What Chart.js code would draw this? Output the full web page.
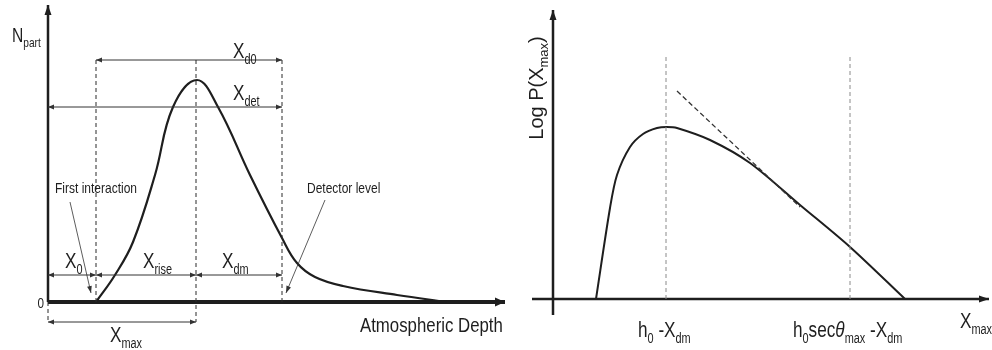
<!DOCTYPE html>
<html>
<head>
<meta charset="utf-8">
<script src="https://cdn.jsdelivr.net/npm/chart.js@4.4.1/dist/chart.umd.min.js"></script>
<style>
  html, body { margin: 0; padding: 0; background: #fff; }
  #wrap { display: flex; width: 992px; height: 350px; }
  canvas { display: block; }
</style>
</head>
<body>
<div id="wrap">
  <canvas id="profileChart" width="510" height="350" style="width:510px;height:350px"></canvas>
  <canvas id="xmaxChart" width="482" height="350" style="width:482px;height:350px"></canvas>
</div>
<script>
// ==========================================
// DATA
// ==========================================

// Left panel: longitudinal shower profile N_part(X)
const depth = [48, 67, 85, 107, 125, 149, 170, 202, 234, 249, 267, 295, 349, 399];
const nPart = [0, 27, 60, 127, 195, 222, 195, 127, 64, 39, 25, 16, 7, 0];

// characteristic depths on the left panel
const X0 = 48;      // first interaction
const XMAX = 148;   // shower maximum
const XDET = 234;   // detector level

// Right panel: Log P(Xmax) distribution
const xmaxVals = [43, 57, 64, 77, 90, 104, 114, 124, 157, 197, 247, 297, 352];
const logP = [0, 91, 124, 152, 165, 171, 172, 171, 159, 136, 94, 52, 0];

// exponential tail (dashed tangent)
const tailX = [124, 247];
const tailY = [208, 92];

// tick positions on the right panel
const H0_XDM = 113;
const H0SEC_XDM = 297;

// ==========================================
// HELPERS
// ==========================================

const FONT = "'Liberation Sans', Arial, sans-serif";
const INK = '#1e1e1e';

function pts(xs, ys) {
    return xs.map((x, i) => ({ x: x, y: ys[i] }));
}

function seg(x1, y1, x2, y2, extra) {
    return Object.assign({
        data: [{ x: x1, y: y1 }, { x: x2, y: y2 }],
        showLine: true,
        borderColor: INK,
        borderWidth: 1,
        pointRadius: 0,
        fill: false
    }, extra || {});
}

// draws arrow heads on datasets that ask for them (arrow: 'start' | 'end' | 'both')
const arrowPlugin = {
    id: 'arrowHeads',
    afterDatasetsDraw(chart) {
        const ctx = chart.ctx;
        chart.data.datasets.forEach((ds, i) => {
            if (!ds.arrow) return;
            const pts = chart.getDatasetMeta(i).data;
            const len = ds.arrowLen || 7, half = ds.arrowHalf || 2.6;
            const head = (tip, from) => {
                const dx = tip.x - from.x, dy = tip.y - from.y;
                const d = Math.hypot(dx, dy) || 1;
                const ux = dx / d, uy = dy / d;
                ctx.beginPath();
                ctx.moveTo(tip.x, tip.y);
                ctx.lineTo(tip.x - ux * len - uy * half, tip.y - uy * len + ux * half);
                ctx.lineTo(tip.x - ux * len + uy * half, tip.y - uy * len - ux * half);
                ctx.closePath();
                ctx.fill();
            };
            ctx.save();
            ctx.fillStyle = ds.borderColor;
            const n = pts.length;
            if (ds.arrow === 'end' || ds.arrow === 'both') head(pts[n - 1], pts[n - 2]);
            if (ds.arrow === 'start' || ds.arrow === 'both') head(pts[0], pts[1]);
            ctx.restore();
        });
    }
};

// text with subscripts, placed in data units
function textPlugin(items) {
    return {
        id: 'richText',
        afterDatasetsDraw(chart) {
            const ctx = chart.ctx;
            const sx = chart.scales.x, sy = chart.scales.y;
            items.forEach(it => {
                const size = it.size || 22;
                const subSize = Math.round(size * 0.64);
                const cond = it.cond || 0.78;
                const fontOf = p => (p.italic ? 'italic ' : '') + (p.sub ? subSize : size) + 'px ' + FONT;
                let w = 0;
                const widths = it.parts.map(p => {
                    ctx.font = fontOf(p);
                    const m = ctx.measureText(p.t).width;
                    w += m;
                    return m;
                });
                ctx.save();
                ctx.fillStyle = it.color || INK;
                ctx.textBaseline = 'alphabetic';
                ctx.textAlign = 'left';
                ctx.translate(sx.getPixelForValue(it.x), sy.getPixelForValue(it.y));
                if (it.rotate) ctx.rotate(it.rotate);
                ctx.scale(cond, 1);
                let cx = it.align === 'right' ? -w : it.align === 'center' ? -w / 2 : 0;
                it.parts.forEach((p, k) => {
                    ctx.font = fontOf(p);
                    ctx.fillText(p.t, cx, p.sub ? size * 0.27 : 0);
                    cx += widths[k];
                });
                ctx.restore();
            });
        }
    };
}

function baseOptions(xmin, xmax, ymin, ymax) {
    return {
        responsive: false,
        animation: false,
        events: [],
        layout: { padding: 0 },
        plugins: { legend: { display: false }, tooltip: { enabled: false } },
        scales: {
            x: { type: 'linear', min: xmin, max: xmax, display: false },
            y: { type: 'linear', min: ymin, max: ymax, display: false }
        }
    };
}

// ==========================================
// LEFT: shower profile
// ==========================================

const dash = { borderDash: [4, 3], borderColor: '#2a2a2a', borderWidth: 1 };
const dim = { arrow: 'both', arrowLen: 6, arrowHalf: 2.4, borderColor: '#333' };

const leftTexts = [
    { x: -36, y: 260, size: 20, parts: [{ t: 'N' }, { t: 'part', sub: true }] },
    { x: -4, y: -6, size: 15, align: 'right', parts: [{ t: '0' }] },
    { x: 185, y: 244, parts: [{ t: 'X' }, { t: 'd0', sub: true }] },
    { x: 185, y: 202, parts: [{ t: 'X' }, { t: 'det', sub: true }] },
    { x: 17, y: 34, parts: [{ t: 'X' }, { t: '0', sub: true }] },
    { x: 95, y: 34, parts: [{ t: 'X' }, { t: 'rise', sub: true }] },
    { x: 174, y: 34, parts: [{ t: 'X' }, { t: 'dm', sub: true }] },
    { x: 62, y: -40, parts: [{ t: 'X' }, { t: 'max', sub: true }] },
    { x: 7, y: 109, size: 15, cond: 0.8, parts: [{ t: 'First interaction' }] },
    { x: 259, y: 109, size: 15, cond: 0.8, parts: [{ t: 'Detector level' }] },
    { x: 312, y: -30, size: 21, cond: 0.8, parts: [{ t: 'Atmospheric Depth' }] }
];

new Chart(document.getElementById('profileChart'), {
    type: 'scatter',
    data: {
        datasets: [
            // dashed guides
            seg(X0, 242, X0, 0, dash),
            seg(XMAX, 242, XMAX, -20, dash),
            seg(XDET, 242, XDET, 0, dash),
            seg(0, 0, 0, -20, dash),
            // dimension arrows
            seg(X0, 242, XDET, 242, dim),
            seg(0, 195, XDET, 195, dim),
            seg(0, 27, X0, 27, dim),
            seg(X0, 27, XMAX, 27, dim),
            seg(XMAX, 27, XDET, 27, dim),
            seg(0, -20, XMAX, -20, dim),
            // pointers
            seg(22, 100, 43, 9, { arrow: 'end', arrowLen: 7, arrowHalf: 2.4, borderWidth: 0.8, borderColor: '#333' }),
            seg(277, 102, 238, 9, { arrow: 'end', arrowLen: 7, arrowHalf: 2.4, borderWidth: 0.8, borderColor: '#333' }),
            // profile
            {
                data: pts(depth, nPart),
                showLine: true,
                borderColor: INK,
                borderWidth: 2.2,
                pointRadius: 0,
                tension: 0.4
            },
            // axes
            seg(0, 0, 0, 297, { borderWidth: 2.5, arrow: 'end', arrowLen: 10, arrowHalf: 3.5 }),
            seg(0, 0, 457, 0, { borderWidth: 4, arrow: 'end', arrowLen: 10, arrowHalf: 4.5 })
        ]
    },
    options: baseOptions(-48, 462, -48, 302),
    plugins: [arrowPlugin, textPlugin(leftTexts)]
});

// ==========================================
// RIGHT: Xmax distribution
// ==========================================

const grayDash = { borderDash: [4, 3], borderColor: '#8a8a8a', borderWidth: 1 };

const rightTexts = [
    { x: -10, y: 211, size: 20, cond: 1, rotate: -Math.PI / 2, align: 'center',
      parts: [{ t: 'Log P(X' }, { t: 'max', sub: true }, { t: ')' }] },
    { x: 85, y: -38, parts: [{ t: 'h' }, { t: '0', sub: true }, { t: ' -X' }, { t: 'dm', sub: true }] },
    { x: 240, y: -38, parts: [{ t: 'h' }, { t: '0', sub: true }, { t: 'sec' }, { t: 'θ', italic: true },
        { t: 'max', sub: true }, { t: ' -X' }, { t: 'dm', sub: true }] },
    { x: 407, y: -29, parts: [{ t: 'X' }, { t: 'max', sub: true }] }
];

new Chart(document.getElementById('xmaxChart'), {
    type: 'scatter',
    data: {
        datasets: [
            seg(H0_XDM, 242, H0_XDM, 0, grayDash),
            seg(H0SEC_XDM, 242, H0SEC_XDM, 0, grayDash),
            {
                data: pts(tailX, tailY),
                showLine: true,
                borderColor: '#333',
                borderWidth: 1.3,
                borderDash: [5, 3],
                pointRadius: 0
            },
            {
                data: pts(xmaxVals, logP),
                showLine: true,
                borderColor: INK,
                borderWidth: 2,
                pointRadius: 0,
                tension: 0.3
            },
            seg(0, -16, 0, 289, { borderWidth: 2.5, arrow: 'end', arrowLen: 10, arrowHalf: 3.5 }),
            seg(-21, 0, 436, 0, { borderWidth: 2.5, arrow: 'end', arrowLen: 10, arrowHalf: 3.5 })
        ]
    },
    options: baseOptions(-43, 439, -51, 299),
    plugins: [arrowPlugin, textPlugin(rightTexts)]
});
</script>
</body>
</html>
